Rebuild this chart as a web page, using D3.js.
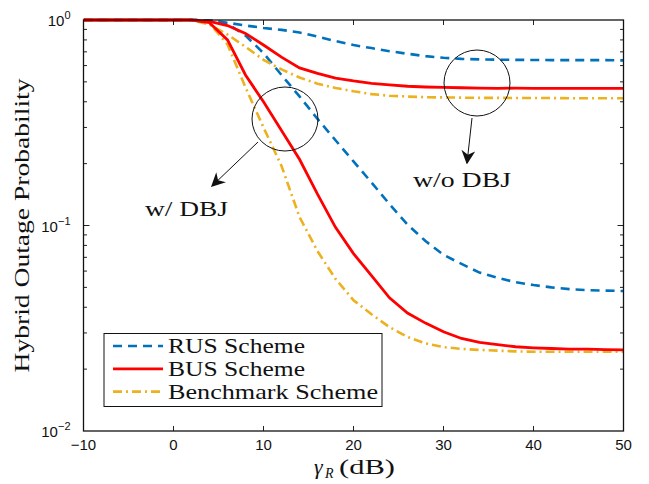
<!DOCTYPE html>
<html><head><meta charset="utf-8">
<script src="https://cdn.jsdelivr.net/npm/d3@7"></script>
<style>body{margin:0;background:#fff}svg{display:block}</style>
</head><body>
<svg id="c" width="649" height="484"></svg>
<script>
const snr = [-10,-8,-6,-4,-2,0,2,4,6,8,10,12,14,16,18,20,22,24,26,28,30,32,34,36,38,40,42,44,46,48,50];
const rusWo = [1,1,1,1,1,1,1,0.995,0.97,0.94,0.915,0.895,0.87,0.83,0.79,0.755,0.73,0.705,0.685,0.667,0.655,0.647,0.643,0.641,0.64,0.639,0.638,0.638,0.638,0.638,0.636];
const busWo = [1,1,1,1,1,1,1,0.985,0.94,0.86,0.756,0.66,0.585,0.55,0.522,0.505,0.492,0.483,0.476,0.472,0.47,0.468,0.466,0.465,0.466,0.465,0.465,0.465,0.465,0.465,0.465];
const benchWo = [1,1,1,1,1,1,1,0.95,0.85,0.74,0.64,0.575,0.525,0.49,0.467,0.45,0.436,0.428,0.424,0.421,0.42,0.419,0.418,0.418,0.417,0.417,0.417,0.416,0.416,0.416,0.416];
const rusW = [1,1,1,1,1,1,1,0.995,0.96,0.84,0.69,0.54,0.425,0.33,0.26,0.205,0.162,0.127,0.101,0.084,0.072,0.065,0.059,0.0557,0.053,0.0513,0.05,0.049,0.0485,0.0482,0.048];
const busW = [1,1,1,1,1,1,1,0.97,0.8,0.54,0.4,0.29,0.21,0.142,0.098,0.073,0.057,0.0445,0.0375,0.0335,0.0304,0.0282,0.027,0.0263,0.0257,0.0254,0.0252,0.025,0.025,0.0249,0.0248];
const benchW = [1,1,1,1,1,1,1,0.965,0.76,0.47,0.3,0.195,0.11,0.075,0.055,0.0433,0.037,0.032,0.0287,0.0267,0.0256,0.0251,0.0248,0.0246,0.0244,0.0243,0.0243,0.0243,0.0243,0.0243,0.0243];
const xTicks = [-10,0,10,20,30,40,50];
const yDecades = [1,0.1,0.01];
const yExp = ["0","\u22121","\u22122"];
const legendLabels = ["RUS Scheme","BUS Scheme","Benchmark Scheme"];
const colors = ["#0072BD","#FF0000","#EDB120"];

const L=83.5,R=623.5,T=20,B=431;
const svg=d3.select("#c");
const x=d3.scaleLinear().domain([-10,50]).range([L,R]);
const y=d3.scaleLog().domain([0.01,1]).range([B,T]);

svg.append("clipPath").attr("id","clip").append("rect").attr("x",L).attr("y",T-2).attr("width",R-L).attr("height",B-T+2);

const styles=[
  {c:colors[0],w:2.6,d:"9,6"},
  {c:colors[1],w:2.8,d:null},
  {c:colors[2],w:2.6,d:"9,4,2,4"}
];
const line=d3.line().x((d,i)=>x(snr[i])).y(d=>y(d));
const series=[[rusWo,0],[rusW,0],[benchWo,2],[benchW,2],[busWo,1],[busW,1]];
const g=svg.append("g").attr("clip-path","url(#clip)");
series.forEach(([vals,s])=>{
  const st=styles[s];
  const p=g.append("path").attr("d",line(vals)).attr("fill","none").attr("stroke",st.c).attr("stroke-width",st.w);
  if(st.d)p.attr("stroke-dasharray",st.d);
});

// ticks
const tk=svg.append("g").attr("stroke","#222").attr("stroke-width",1);
xTicks.slice(1,-1).forEach(v=>{
  tk.append("line").attr("x1",x(v)).attr("x2",x(v)).attr("y1",B).attr("y2",B-5);
  tk.append("line").attr("x1",x(v)).attr("x2",x(v)).attr("y1",T).attr("y2",T+5);
});
const minors=[];
[0.01,0.1].forEach(d=>{for(let k=2;k<=9;k++)minors.push(d*k);});
minors.forEach(v=>{
  tk.append("line").attr("x1",L).attr("x2",L+3.5).attr("y1",y(v)).attr("y2",y(v));
  tk.append("line").attr("x1",R).attr("x2",R-3.5).attr("y1",y(v)).attr("y2",y(v));
});
yDecades.slice(1,2).forEach(v=>{
  tk.append("line").attr("x1",L).attr("x2",L+6).attr("y1",y(v)).attr("y2",y(v));
  tk.append("line").attr("x1",R).attr("x2",R-6).attr("y1",y(v)).attr("y2",y(v));
});
svg.append("rect").attr("x",L).attr("y",T).attr("width",R-L).attr("height",B-T).attr("fill","none").attr("stroke","#111").attr("stroke-width",1.3);

// tick labels
const sans="'Liberation Sans', Arial, sans-serif";
xTicks.forEach(v=>{
  svg.append("text").attr("x",x(v)).attr("y",B+19).attr("text-anchor","middle")
    .attr("font-family",sans).attr("font-size",15).attr("fill","#111")
    .text(v<0?"\u2212"+Math.abs(v):v);
});
yDecades.forEach((v,i)=>{
  const t=svg.append("text").attr("x",L-13).attr("y",y(v)+6).attr("text-anchor","end")
    .attr("font-family",sans).attr("font-size",15).attr("fill","#111");
  t.append("tspan").text("10");
  t.append("tspan").attr("dy",-7).attr("font-size",11).text(yExp[i]);
});

const serif="'Liberation Serif','Times New Roman',serif";
function stext(sel,txt,w){
  return sel.append("text").attr("font-family",serif).attr("font-size",21).attr("fill","#111")
    .attr("textLength",w).attr("lengthAdjust","spacingAndGlyphs").text(txt);
}
// axis labels
stext(svg,"Hybrid Outage Probability",294).attr("transform",`translate(29,${(T+B)/2+147}) rotate(-90)`);
const xl=svg.append("g").attr("font-family",serif).attr("fill","#111");
xl.append("text").attr("x",314).attr("y",474).attr("font-size",22).attr("font-style","italic").text("\u03b3");
xl.append("text").attr("x",325).attr("y",478).attr("font-size",14).attr("font-style","italic").text("R");
xl.append("text").attr("x",339).attr("y",474).attr("font-size",21)
  .attr("textLength",56).attr("lengthAdjust","spacingAndGlyphs").text("(dB)");

// annotations
const ann=svg.append("g");
ann.append("ellipse").attr("cx",285).attr("cy",119).attr("rx",33).attr("ry",32).attr("fill","none").attr("stroke","#111").attr("stroke-width",1);
ann.append("ellipse").attr("cx",477).attr("cy",83).attr("rx",33).attr("ry",33).attr("fill","none").attr("stroke","#111").attr("stroke-width",1);
svg.append("defs").append("marker").attr("id","ah").attr("viewBox","0 0 10 10").attr("refX",9).attr("refY",5)
  .attr("markerWidth",14).attr("markerHeight",14).attr("markerUnits","userSpaceOnUse").attr("orient","auto")
  .append("path").attr("d","M0,0 L10,5 L0,10 L3,5 Z").attr("fill","#111");
ann.append("line").attr("x1",258).attr("y1",142).attr("x2",212).attr("y2",186).attr("stroke","#111").attr("stroke-width",1).attr("marker-end","url(#ah)");
ann.append("line").attr("x1",472).attr("y1",118).attr("x2",467).attr("y2",163).attr("stroke","#111").attr("stroke-width",1).attr("marker-end","url(#ah)");
stext(ann,"w/ DBJ",83).attr("x",145).attr("y",216);
stext(ann,"w/o DBJ",98).attr("x",413).attr("y",187);

// legend
const lg=svg.append("g");
lg.append("rect").attr("x",104).attr("y",333.5).attr("width",278).attr("height",73).attr("fill","#fff").attr("stroke","#111").attr("stroke-width",1);
const lw=[137,137,210];
legendLabels.forEach((lab,i)=>{
  const yy=346+i*22.8;
  const st=styles[i];
  const l=lg.append("line").attr("x1",113).attr("x2",163).attr("y1",yy).attr("y2",yy).attr("stroke",st.c).attr("stroke-width",st.w);
  if(st.d)l.attr("stroke-dasharray",st.d);
  stext(lg,lab,lw[i]).attr("x",168).attr("y",yy+7);
});
</script>
</body></html>
